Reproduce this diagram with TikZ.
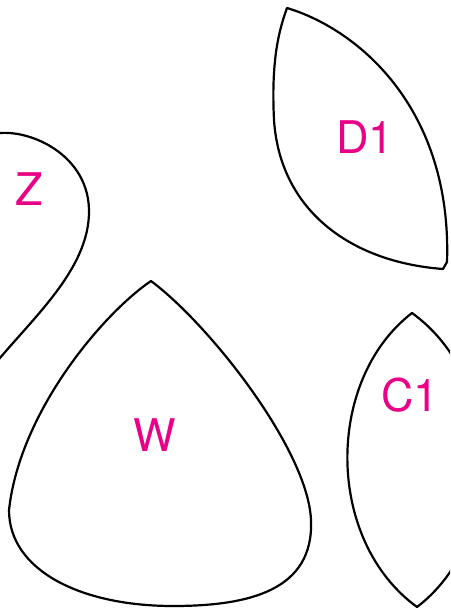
\documentclass[tikz,border=0pt]{standalone}
\usepackage{fontspec}
\setmainfont{TeX Gyre Heros}
\usepackage{tikz}
\definecolor{labpink}{RGB}{232,0,135}

\begin{document}
\begin{tikzpicture}[x=1pt, y=-1pt,
  piece/.style={draw=black, line width=2.2pt, line join=round},
  lab/.style={text=labpink, inner sep=0pt, font=\fontsize{45}{50}\selectfont}]
  \useasboundingbox (0,0) rectangle (450,608);
  \clip (0,0) rectangle (450,608);
  % Z, cut by the left edge
  \draw[piece] (-10,135) .. controls (20,125) and (88,150) .. (89,210)
    .. controls (90,270) and (30,320) .. (-10,370);
  \node[lab] (z) at (29,189) {Z};
  % D1
  \draw[piece] (287,8) .. controls (360,30) and (452,110) .. (447,262) -- (443,269)
    .. controls (350,262) and (280,210) .. (274,120)
    .. controls (271,60) and (279,30) .. (287,8) -- cycle;
  \node[lab] (d1) at (365,137) {D1};
  % W
  \draw[piece] (151,281) .. controls (105,312) and (20,410) .. (9,510)
    .. controls (9,570) and (80,606) .. (173,606)
    .. controls (250,606) and (314,590) .. (311,520)
    .. controls (308,450) and (210,325) .. (151,281) -- cycle;
  \node[lab] (w) at (155,435) {W};
  % C1, cut by the right edge
  \draw[piece] (412,313) .. controls (325,380) and (325,540) .. (417,607)
    .. controls (505,540) and (505,380) .. (412,313) -- cycle;
  \node[lab] (c1) at (410,395) {C1};
\end{tikzpicture}
\end{document}
